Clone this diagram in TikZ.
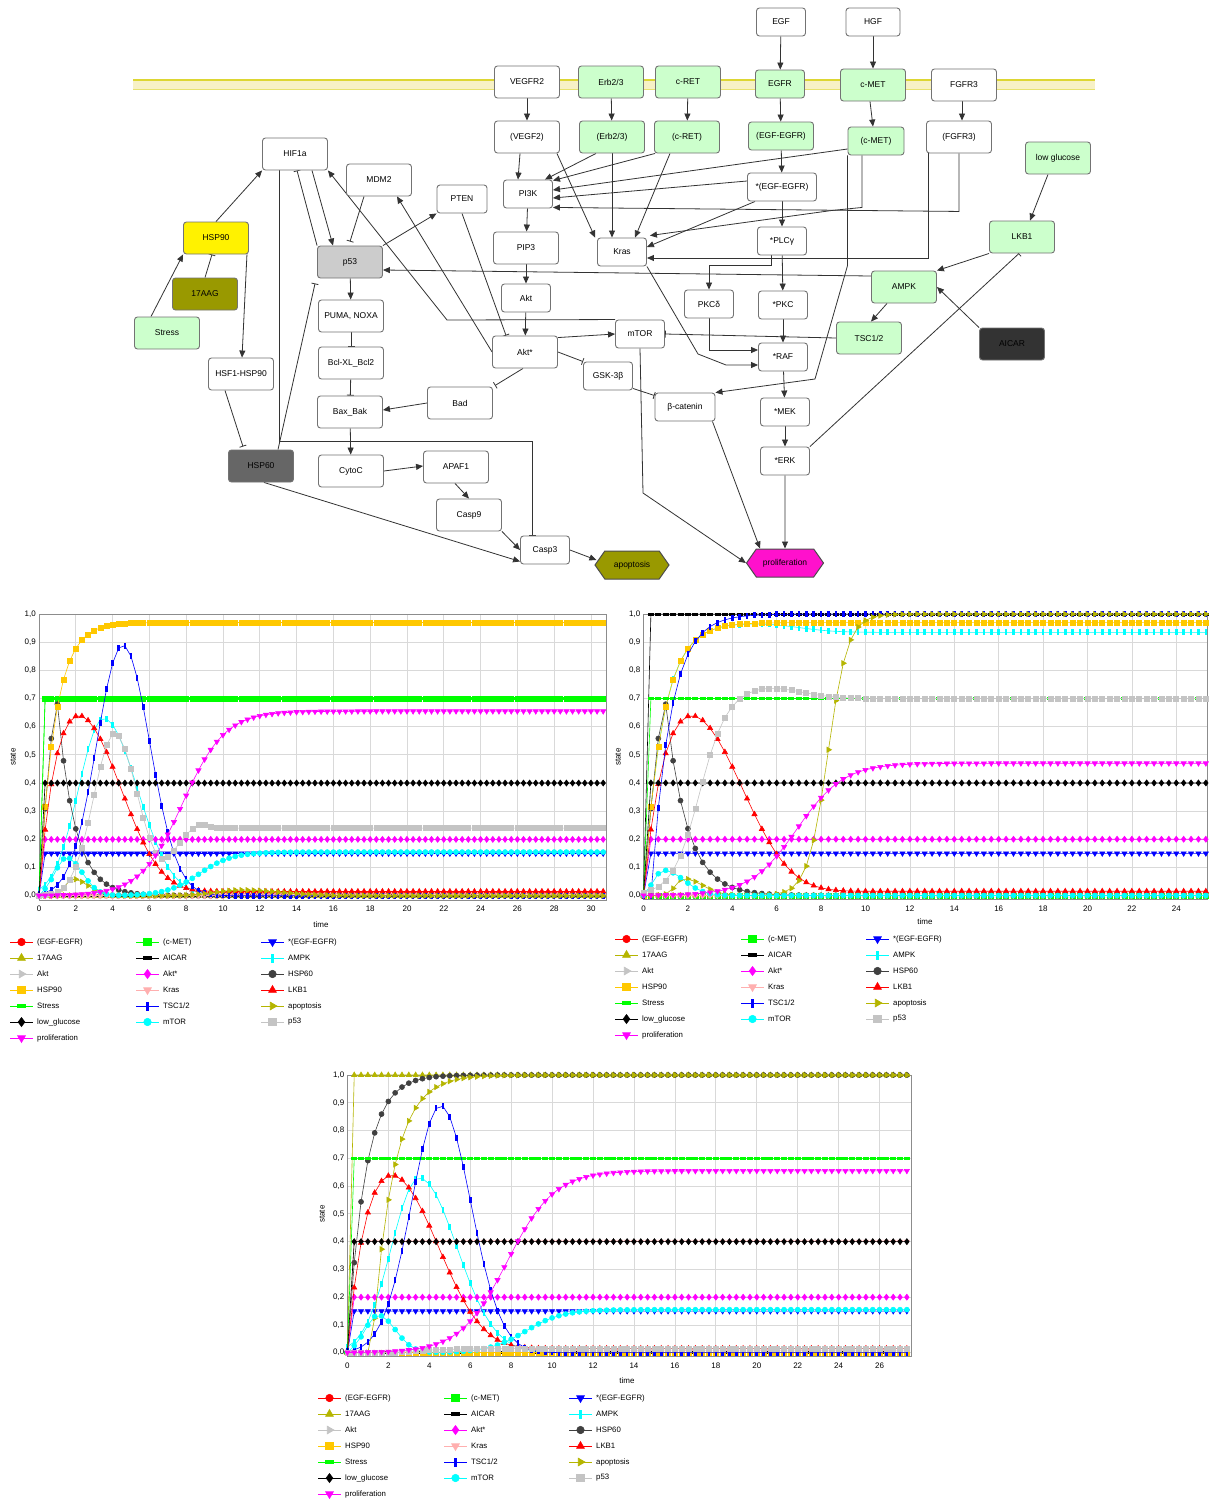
\documentclass[tikz,border=0pt]{standalone}
\usepackage{fontspec}
\setmainfont{Liberation Sans}
\usepackage{tikz}
\usetikzlibrary{arrows.meta, shapes.symbols, plotmarks, calc}
\pgfdeclarelayer{edges}
\pgfsetlayers{edges,main}
\definecolor{recgreen}{HTML}{CCFFCC}
\definecolor{olivebox}{HTML}{999900}
\definecolor{hspgrey}{HTML}{666666}
\definecolor{aicargrey}{HTML}{333333}
\definecolor{pfivegrey}{HTML}{CCCCCC}
\definecolor{prolmag}{HTML}{FF11CC}
\definecolor{membfill}{HTML}{F7F1C6}
\definecolor{membline}{HTML}{DDD633}
\definecolor{sRed}{HTML}{FF0000}
\definecolor{sGreen}{HTML}{00FF00}
\definecolor{sBlue}{HTML}{0000FF}
\definecolor{sOlive}{HTML}{B5B500}
\definecolor{sBlack}{HTML}{000000}
\definecolor{sCyan}{HTML}{00FFFF}
\definecolor{sLgrey}{HTML}{C4C4C4}
\definecolor{sMag}{HTML}{FF00FF}
\definecolor{sDgrey}{HTML}{404040}
\definecolor{sGold}{HTML}{FFC800}
\definecolor{sPink}{HTML}{FFAFAF}

\pgfdeclareplotmark{hbar}{\pgfpathrectangle{\pgfqpoint{-3pt}{-1.4pt}}{\pgfqpoint{6pt}{2.8pt}}\pgfusepathqfill}
\pgfdeclareplotmark{vbar}{\pgfpathrectangle{\pgfqpoint{-1.3pt}{-3pt}}{\pgfqpoint{2.6pt}{6pt}}\pgfusepathqfill}

\tikzset{
  gene/.style={draw=black!55, line width=0.9pt, rounded corners=3pt, fill=white,
    minimum width=65pt, minimum height=32pt, inner sep=0pt, font=\fontsize{8.5}{10}\selectfont},
  gsmall/.style={gene, minimum width=49pt, minimum height=28pt},
  rcpt/.style={fill=recgreen},
  hexa/.style={shape=signal, signal to=east and west, signal pointer angle=110, draw=black!70,
    line width=1pt, minimum width=76pt, minimum height=28pt, inner sep=0pt, font=\fontsize{8.5}{10}\selectfont},
  act/.style={draw=black!80, line width=0.8pt, -{Triangle[length=7pt,width=6pt]}},
  inh/.style={draw=black!80, line width=0.8pt, -{Bar[width=7pt]}},
  gridline/.style={draw=black!15, line width=0.8pt},
  boxframe/.style={draw=black!45, line width=0.8pt},
  ticklab/.style={font=\fontsize{8}{9}\selectfont, inner sep=1pt},
  legtext/.style={font=\fontsize{7.8}{9}\selectfont, anchor=west, inner sep=0pt},
  ser/.style={line width=0.6pt, mark size=2.5pt},
  sEgfEgfr/.style={ser, sRed, mark=*},
  sCmet/.style={ser, sGreen, mark=square*},
  sActEgf/.style={ser, sBlue, mark=triangle*, mark size=3pt, mark options={rotate=180}},
  sAag/.style={ser, sOlive, mark=triangle*, mark size=3pt},
  sAicar/.style={ser, sBlack, mark=hbar},
  sAmpk/.style={ser, sCyan, mark=vbar},
  sAkt/.style={ser, sLgrey, mark=triangle*, mark size=3pt, mark options={rotate=-90}},
  sAkts/.style={ser, sMag, mark=diamond*, mark size=3pt},
  sHspSixty/.style={ser, sDgrey, mark=*},
  sHspNinety/.style={ser, sGold, mark=square*},
  sKras/.style={ser, sPink, mark=triangle*, mark size=3pt, mark options={rotate=180}},
  sLkb/.style={ser, sRed, mark=triangle*, mark size=3pt},
  sStress/.style={ser, sGreen, mark=hbar},
  sTsc/.style={ser, sBlue, mark=vbar},
  sApop/.style={ser, sOlive, mark=triangle*, mark size=3pt, mark options={rotate=-90}},
  sLowGlc/.style={ser, sBlack, mark=diamond*, mark size=3pt},
  sMtor/.style={ser, sCyan, mark=*},
  sPfs/.style={ser, sLgrey, mark=square*},
  sProlif/.style={ser, sMag, mark=triangle*, mark size=3pt, mark options={rotate=180}},
}

% curves shared by the simulations
\newcommand{\fHspNinety}{0.97*rise(\tm,0,0.85)}
\newcommand{\fHspSixty}{0.68*(\tm>0)*((\tm<1)*bell(\tm,1,0.75,1)+(\tm>=1)*fall(\tm,1,0.95))}
\newcommand{\fLkb}{0.75*rise(\tm,0,0.9)*exp(-min(9,(\tm/5)*(\tm/5)*(\tm/5)))+0.015*rise(\tm,0,2)}
\newcommand{\fTsc}{0.89*bell(\tm,4.55,2.0,2.09)}
\newcommand{\fAmpk}{0.63*bell(\tm,3.5,1.9,2.6)}
\newcommand{\fMtor}{0.135*(\tm>0)*bell(\tm,1.5,0.9,1.2)+0.155*sigm(\tm,8.7,0.9)}
\newcommand{\fProlif}{0.655*sigm(\tm,7.8,1.15)}

\newcommand{\simcurve}[2]{\draw[#1] plot[variable=\tm, samples at={0,0.3333,...,\tmax}] (\tm,{#2});}

\newcommand{\plotframe}[3]{% #1 prefix, #2 right end, #3 last tick
  \foreach \k in {2,4,...,#3} \draw[gridline] (\k,-0.015) -- (\k,1);
  \foreach \k in {0,...,9} \draw[gridline] (0,\k/10) -- (#2,\k/10);
  \draw[boxframe] (0,-0.015) rectangle (#2,1);
  \foreach \k in {0,...,9} \node[ticklab, anchor=east, xshift=-2pt] (#1y\k) at (0,\k/10) {0,\k};
  \node[ticklab, anchor=east, xshift=-2pt] (#1yten) at (0,1) {1,0};
  \foreach \k in {0,2,...,#3} \node[ticklab, anchor=north, yshift=-5pt] (#1x\k) at (\k,-0.015) {\k};
}

\newcommand{\legitem}[5]{% name, x, y, style, label
  \draw[#4] (#2,#3) -- ++(23,0);
  \draw[#4, every mark/.append style={scale=1.5}] plot coordinates {(#2+11.5,#3)};
  \node[legtext] (#1) at (#2+27,#3) {#5};
}
\newcommand{\legendblock}[3]{%
  \legitem{#1a}{#2}{#3}{sEgfEgfr}{(EGF-EGFR)}
  \legitem{#1b}{#2+126}{#3}{sCmet}{(c-MET)}
  \legitem{#1c}{#2+251}{#3}{sActEgf}{*(EGF-EGFR)}
  \legitem{#1d}{#2}{#3+16}{sAag}{17AAG}
  \legitem{#1e}{#2+126}{#3+16}{sAicar}{AICAR}
  \legitem{#1f}{#2+251}{#3+16}{sAmpk}{AMPK}
  \legitem{#1g}{#2}{#3+32}{sAkt}{Akt}
  \legitem{#1h}{#2+126}{#3+32}{sAkts}{Akt*}
  \legitem{#1i}{#2+251}{#3+32}{sHspSixty}{HSP60}
  \legitem{#1j}{#2}{#3+48}{sHspNinety}{HSP90}
  \legitem{#1k}{#2+126}{#3+48}{sKras}{Kras}
  \legitem{#1l}{#2+251}{#3+48}{sLkb}{LKB1}
  \legitem{#1m}{#2}{#3+64}{sStress}{Stress}
  \legitem{#1n}{#2+126}{#3+64}{sTsc}{TSC1/2}
  \legitem{#1o}{#2+251}{#3+64}{sApop}{apoptosis}
  \legitem{#1p}{#2}{#3+80}{sLowGlc}{low\_glucose}
  \legitem{#1q}{#2+126}{#3+80}{sMtor}{mTOR}
  \legitem{#1r}{#2+251}{#3+80}{sPfs}{p53}
  \legitem{#1s}{#2}{#3+96}{sProlif}{proliferation}
}

\begin{document}
\begin{tikzpicture}[x=1pt, y=-1pt,
  declare function={
    sq(\va)=\va*\va;
    bell(\va,\vb,\vc,\vd)=exp(-min(9,sq((\va-\vb)/((\va<\vb)*\vc+(\va>=\vb)*\vd))));
    sigm(\va,\vb,\vc)=1/(1+exp(max(-9,min(9,-(\va-\vb)/\vc))));
    rise(\va,\vb,\vc)=1-exp(-min(9,max(0,(\va-\vb)/\vc)));
    fall(\va,\vb,\vc)=exp(-min(9,max(0,(\va-\vb)/\vc)));
  }]
\useasboundingbox (0,0) rectangle (1208,1499);

% --- network: receptors ---
\node[gsmall] (egf) at (781,22) {EGF};
\node[gsmall, minimum width=54pt] (hgf) at (873,22) {HGF};
\node[gene] (vegfr2) at (527,82) {VEGFR2};
\node[gene, rcpt] (erb) at (611,82) {Erb2/3};
\node[gene, rcpt] (cret) at (688,82) {c-RET};
\node[gsmall, rcpt] (egfr) at (780,84) {EGFR};
\node[gene, rcpt] (cmet) at (873,85) {c-MET};
\node[gene] (fgfr3) at (964,85) {FGFR3};
\node[gene] (vegf2p) at (527,137) {(VEGF2)};
\node[gene, rcpt] (erbp) at (612,137) {(Erb2/3)};
\node[gene, rcpt] (cretp) at (687,137) {(c-RET)};
\node[gene, rcpt, minimum height=28pt] (egfegfr) at (781,136) {(EGF-EGFR)};
\node[gsmall, rcpt, minimum width=56pt] (cmetp) at (876,141) {(c-MET)};
\node[gene] (fgfr3p) at (959,137) {(FGFR3)};
\node[gene, rcpt] (lowglc) at (1058,158) {low glucose};
\node[gsmall, minimum width=69pt] (segf) at (782,187) {*(EGF-EGFR)};

% --- network: signalling ---
\node[gene] (hif) at (295,154) {HIF1a};
\node[gene] (mdm2) at (379,180) {MDM2};
\node[gsmall, minimum width=50pt] (pten) at (462,199) {PTEN};
\node[gsmall] (pi3k) at (528,194) {PI3K};
\node[gene, fill=yellow] (hsp90) at (216,238) {HSP90};
\node[gene, fill=pfivegrey] (p53) at (350,262) {p53};
\node[gene] (pip3) at (526,248) {PIP3};
\node[gsmall] (kras) at (622,252) {Kras};
\node[gsmall] (plcg) at (782,241) {*PLCγ};
\node[gene, rcpt] (lkb1) at (1022,237) {LKB1};
\node[gene, fill=olivebox] (aag) at (205,294) {17AAG};
\node[gene, rcpt] (ampk) at (904,287) {AMPK};
\node[gsmall] (akt) at (526,298) {Akt};
\node[gsmall] (pkcd) at (709,304) {PKCδ};
\node[gsmall] (pkc) at (783,305) {*PKC};
\node[gene] (puma) at (351,316) {PUMA, NOXA};
\node[gene, rcpt] (stress) at (167,333) {Stress};
\node[gsmall] (mtor) at (640,334) {mTOR};
\node[gene, rcpt] (tsc) at (869,338) {TSC1/2};
\node[gene, fill=aicargrey, text=black] (aicar) at (1012,344) {AICAR};
\node[gene] (akts) at (525,352) {Akt*};
\node[gsmall] (raf) at (783,357) {*RAF};
\node[gene] (bcl) at (351,363) {Bcl-XL\_Bcl2};
\node[gene] (hsf1) at (241,374) {HSF1-HSP90};
\node[gsmall] (gsk) at (608,376) {GSK-3β};
\node[gsmall, minimum width=60pt] (bcat) at (685,407) {β-catenin};
\node[gsmall] (mek) at (785,412) {*MEK};
\node[gene] (bad) at (460,403) {Bad};
\node[gene] (bax) at (350,412) {Bax\_Bak};
\node[gene, fill=hspgrey] (hsp60) at (261,466) {HSP60};
\node[gene] (cytoc) at (351,471) {CytoC};
\node[gene] (apaf1) at (456,467) {APAF1};
\node[gsmall] (erk) at (785,461) {*ERK};
\node[gene] (casp9) at (469,515) {Casp9};
\node[gsmall] (casp3) at (545,550) {Casp3};
\node[hexa, fill=olivebox, minimum width=74pt] (apop) at (632,565) {apoptosis};
\node[hexa, fill=prolmag, minimum width=77pt] (prolif) at (785,563) {proliferation};

\begin{pgfonlayer}{edges}
\fill[white] (0,0) rectangle (1208,1499);
% membrane
\fill[membfill] (133,80) rectangle (1095,89);
\draw[membline, line width=1.5pt] (133,80) -- (1095,80);
\draw[membline!70, line width=1pt] (133,89) -- (1095,89);

% --- receptor activation ---
\draw[act] (egf) -- (egfr);
\draw[act] (hgf) -- (cmet);
\draw[act] (vegfr2) -- (vegf2p);
\draw[act] (erb) -- (erbp);
\draw[act] (cret) -- (cretp);
\draw[act] (egfr) -- (egfegfr);
\draw[act] ([xshift=-3pt]cmet.south) -- ([xshift=-3pt]cmetp.north);
\draw[act] ([xshift=-2pt]fgfr3.south) -- ([xshift=3pt]fgfr3p.north);
\draw[act] (egfegfr) -- (segf);

% --- into PI3K and Kras ---
\draw[act] ([xshift=-7pt]vegf2p.south) -- ([xshift=-10pt]pi3k.north);
\draw[act] ([xshift=-16pt]erbp.south) -- ([xshift=-8pt]pi3k.north east);
\draw[act] ([xshift=1pt]cretp.south west) -- ([yshift=-1pt]pi3k.north east);
\draw[act] ([yshift=-8pt]cmetp.west) -- ([yshift=4pt]pi3k.east);
\draw[act] ([yshift=6pt]segf.west) -- ([yshift=-4pt]pi3k.east);
\draw[act] (fgfr3p.south) -- ++(0,58) -- ([yshift=1pt]pi3k.south east);
\draw[act] ([xshift=-3pt]vegf2p.south east) -- ([xshift=-2pt]kras.north west);
\draw[act] (erbp.south) -- (erbp.south |- kras.north);
\draw[act] ([xshift=-17pt]cretp.south) -- ([xshift=13pt]kras.north);
\draw[act] ([xshift=-14pt]cmetp.south) -- ++(0,52) -- ++(-30,3) -- ([xshift=3pt,yshift=2pt]kras.north east);
\draw[act] ([xshift=8pt]segf.south west) -- ([yshift=5pt]kras.east);
\draw[act] ([xshift=-31pt]fgfr3p.south) |- ([yshift=-6pt]kras.east);

% --- MAPK branch ---
\draw[act] (segf) -- (plcg);
\draw[act] ([xshift=-11pt]plcg.south) -- ++(0,10) -| (pkcd.north);
\draw[act] (plcg) -- (pkc);
\draw[act] (pkc) -- (raf);
\draw[act] (pkcd.south) |- ([yshift=7pt]raf.west);
\draw[act] (kras.south east) -- (698,354) -- (726,365) -- ([yshift=-8pt]raf.west);
\draw[act] (raf) -- (mek);
\draw[act] (mek) -- (erk);
\draw[act] (erk) -- (prolif);
\draw[act] (cmetp.south west) -- ++(0,110) -- (815,379) -- (bcat.north east);
\draw[act] ([xshift=-3pt]bcat.south east) -- ([xshift=-25pt]prolif.north);
\draw[act] (mtor.south) -- (643,493) -- (prolif.west);

% --- energy sensing ---
\draw[inh] (erk.north east) -- ([xshift=-3pt]lkb1.south);
\draw[act] ([xshift=-10pt]lowglc.south) -- ([xshift=8pt]lkb1.north);
\draw[act] (lkb1.south west) -- (ampk.north east);
\draw[act] (aicar.north west) -- (ampk.east);
\draw[act] ([xshift=-17pt]ampk.south) -- ([xshift=2pt]tsc.north);
\draw[inh] (tsc.west) -- (mtor.east);
\draw[act] ([yshift=11pt]ampk.west) -- ([yshift=-8pt]p53.east);

% --- PI3K / Akt ---
\draw[act] (pi3k) -- (pip3);
\draw[act] (pip3) -- (akt);
\draw[act] (akt) -- (akts);
\draw[act] ([yshift=-2pt]akts.north east) -- (mtor.west);
\draw[inh] (akts.east) -- (gsk.north west);
\draw[inh] ([yshift=2pt]gsk.south east) -- ([yshift=-3pt]bcat.north west);
\draw[inh] ([xshift=-2pt]akts.south) -- ([xshift=2pt,yshift=1pt]bad.north east);
\draw[act] (bad.west) -- ([yshift=2pt]bax.east);
\draw[inh] (pten.south) -- ([xshift=14pt]akts.north west);
\draw[act] (akts.west) -- ([xshift=18pt]mdm2.south);

% --- p53 and HIF1a ---
\draw[act] (p53.north east) -- (pten.south west);
\draw[inh] ([xshift=-15pt]mdm2.south) -- ([yshift=4pt]p53.north);
\draw[act] ([xshift=17pt]hif.south) -- ([xshift=-17pt]p53.north);
\draw[inh] (p53.north west) -- ([xshift=2pt]hif.south);
\draw[act] (mtor.north west) -- (447,320) -- (hif.south east);
\draw[act] (hsp90.north) -- (hif.south west);
\draw[inh] (aag.north) -- ([xshift=-4pt]hsp90.south);
\draw[act] ([xshift=-16pt]stress.north) -- (hsp90.south west);
\draw[act] ([xshift=-2pt]hsp90.south east) -- ([xshift=1pt]hsf1.north);
\draw[inh] ([xshift=-16pt]hsf1.south) -- ([xshift=-18pt,yshift=3pt]hsp60.north);
\draw[inh] ([xshift=17pt]hsp60.north) -- ([xshift=-2pt,yshift=-5pt]p53.south west);
\draw[inh] ([xshift=-16pt]hif.south) -- (279,441) -| ([xshift=-13pt]casp3.north);

% --- apoptosis ---
\draw[act] (p53) -- (puma);
\draw[inh] (puma) -- (bcl);
\draw[inh] (bcl) -- (bax);
\draw[act] (bax) -- (cytoc);
\draw[act] (cytoc.east) -- ([yshift=1pt]apaf1.west);
\draw[act] ([xshift=-1pt]apaf1.south) -- (casp9.north);
\draw[act] (casp9.south east) -- (casp3.west);
\draw[act] ([xshift=3pt]hsp60.south) -- ([yshift=3pt]casp3.south west);
\draw[act] (casp3.east) -- ([xshift=2pt,yshift=5pt]apop.west);
\end{pgfonlayer}

% --- simulation 1: control ---
\begin{scope}[shift={(39,895.7)}, x=18.4pt, y=281.7pt]
\def\tmax{30.8}
\plotframe{pa}{30.85}{30}
\simcurve{sEgfEgfr}{0}
\simcurve{sCmet}{0.7*(\tm>0)}
\simcurve{sActEgf}{0.15*(\tm>0)}
\simcurve{sAag}{0}
\simcurve{sAicar}{0}
\simcurve{sAmpk}{\fAmpk}
\simcurve{sAkt}{0}
\simcurve{sAkts}{0.2*(\tm>0)}
\simcurve{sHspSixty}{\fHspSixty}
\simcurve{sHspNinety}{\fHspNinety}
\simcurve{sKras}{0}
\simcurve{sLkb}{\fLkb}
\simcurve{sStress}{0.7*(\tm>0)}
\simcurve{sTsc}{\fTsc}
\simcurve{sApop}{0.06*bell(\tm,1.8,0.5,1.2)+0.02*bell(\tm,11,2,3)}
\simcurve{sLowGlc}{0.4*(\tm>0)}
\simcurve{sMtor}{\fMtor}
\simcurve{sPfs}{0.575*bell(\tm,4.1,1.6,1.8)+0.24*sigm(\tm,7.2,0.45)+0.02*bell(\tm,8.7,0.6,0.6)}
\simcurve{sProlif}{\fProlif}
\end{scope}
\node[ticklab, rotate=90] (pastate) at (13,757) {state};
\node[ticklab] (patime) at (321,925) {time};

% --- simulation 2: AICAR ---
\begin{scope}[shift={(643.5,895.5)}, x=22.2pt, y=281.4pt]
\def\tmax{25.4}
\plotframe{pb}{25.42}{24}
\simcurve{sEgfEgfr}{0}
\simcurve{sCmet}{0}
\simcurve{sActEgf}{0.15*(\tm>0)}
\simcurve{sAag}{0}
\simcurve{sAicar}{(\tm>0)}
\simcurve{sAmpk}{0.97*rise(\tm,0,0.85)-0.035*sigm(\tm,7,0.8)}
\simcurve{sAkt}{0}
\simcurve{sAkts}{0.2*(\tm>0)}
\simcurve{sHspSixty}{\fHspSixty}
\simcurve{sHspNinety}{\fHspNinety}
\simcurve{sKras}{0}
\simcurve{sLkb}{\fLkb}
\simcurve{sStress}{0.7*(\tm>0)}
\simcurve{sTsc}{rise(\tm,0.35,0.85)}
\simcurve{sApop}{0.06*bell(\tm,1.8,0.5,1.2)+sigm(\tm,8.3,0.45)}
\simcurve{sLowGlc}{0.4*(\tm>0)}
\simcurve{sMtor}{0.09*(\tm>0)*bell(\tm,0.9,0.6,1.3)}
\simcurve{sPfs}{0.7*sigm(\tm,2.5,0.6)+0.04*bell(\tm,5.5,2.2,2.2)}
\simcurve{sProlif}{0.47*sigm(\tm,6.9,1.05)}
\end{scope}
\node[ticklab, rotate=90] (pbstate) at (618,757) {state};
\node[ticklab] (pbtime) at (925,922) {time};

% --- simulation 3: 17AAG ---
\begin{scope}[shift={(347.4,1352.7)}, x=20.47pt, y=277.7pt]
\def\tmax{27.5}
\plotframe{pc}{27.53}{26}
\simcurve{sEgfEgfr}{0}
\simcurve{sCmet}{0}
\simcurve{sActEgf}{0.15*(\tm>0)}
\simcurve{sAag}{(\tm>0)}
\simcurve{sAicar}{0}
\simcurve{sAmpk}{\fAmpk}
\simcurve{sAkt}{0}
\simcurve{sAkts}{0.2*(\tm>0)}
\simcurve{sHspSixty}{rise(\tm,0,0.85)}
\simcurve{sHspNinety}{0}
\simcurve{sKras}{0.4*(\tm>0)}
\simcurve{sLkb}{\fLkb}
\simcurve{sStress}{0.7*(\tm>0)}
\simcurve{sTsc}{\fTsc}
\simcurve{sApop}{rise(\tm,1.2,1.0)}
\simcurve{sLowGlc}{0.4*(\tm>0)}
\simcurve{sMtor}{\fMtor}
\simcurve{sPfs}{0.015*rise(\tm,2.5,1.5)}
\simcurve{sProlif}{\fProlif}
\end{scope}
\node[ticklab, rotate=90] (pcstate) at (322,1214) {state};
\node[ticklab] (pctime) at (627,1381) {time};

% --- legends ---
\legendblock{la}{10}{942}
\legendblock{lb}{615}{939}
\legendblock{lc}{318}{1398}
\end{tikzpicture}
\end{document}
